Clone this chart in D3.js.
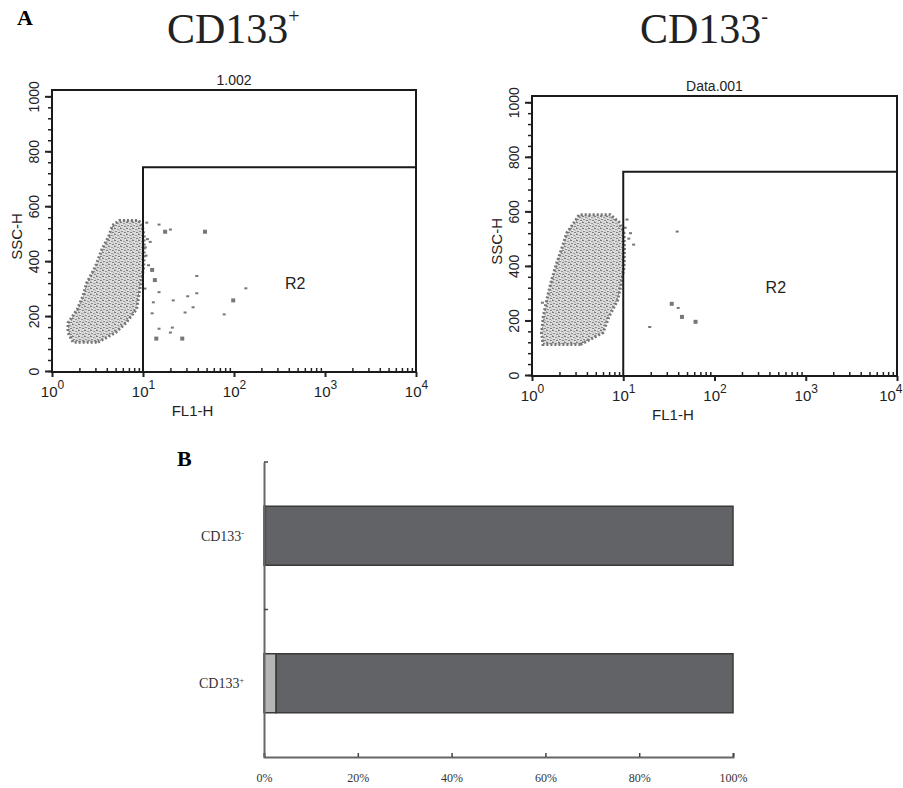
<!DOCTYPE html>
<html>
<head>
<meta charset="utf-8">
<script src="https://cdn.jsdelivr.net/npm/d3@7"></script>
<style>
body{margin:0;background:#fff}
svg{display:block}
</style>
</head>
<body>
<svg width="903" height="788"></svg>
<script>
// ---- data ----
// FACS plots: x = FL1-H (log), y = SSC-H (0..1023)
var decades = [1, 10, 100, 1000, 10000];
var sscMajor = [0, 200, 400, 600, 800, 1000];
var gateFl1 = 10;

// main cell cloud outline per SSC row: [ssc, fl1 low, fl1 high]
var cloudPos = [
  [105, 1.7, 3.2], [140, 1.5, 5.0], [175, 1.5, 6.5], [225, 1.9, 8.5],
  [275, 2.2, 9.0], [320, 2.4, 9.5], [380, 3.0, 10.2], [440, 3.5, 10.3],
  [490, 4.2, 10.3], [530, 4.6, 9.8], [548, 5.5, 9.0]
];
var cloudNeg = [
  [112, 1.32, 3.4], [155, 1.27, 6.0], [215, 1.33, 7.0], [275, 1.45, 8.7],
  [335, 1.6, 9.5], [395, 1.8, 10.2], [460, 2.1, 10.3], [520, 2.4, 10.2],
  [560, 2.9, 9.0], [588, 3.3, 7.2]
];
// scattered events: [fl1, ssc, big]
var eventsPos = [
  [11, 540, 0], [15, 533, 0], [17.5, 507, 1], [20, 515, 0], [48, 507, 1],
  [12.6, 368, 1], [13.5, 331, 1], [15, 287, 0], [21.5, 257, 0], [39, 346, 0],
  [31, 272, 0], [39, 283, 0], [35.5, 232, 0], [29, 213, 0], [98, 257, 1],
  [135, 301, 0], [78, 206, 0], [21, 158, 0], [20, 140, 0], [14, 118, 1],
  [27, 118, 1], [15, 154, 0], [13, 250, 0], [12.6, 210, 0], [10.6, 450, 0],
  [10.8, 420, 0], [11.5, 385, 0], [10.5, 300, 0], [11.2, 480, 0], [12, 470, 0]
];
var eventsNeg = [
  [39, 526, 0], [34, 261, 1], [40, 246, 0], [44, 213, 1], [62, 195, 1],
  [19.5, 176, 0], [11, 570, 0], [13, 478, 0], [11.5, 500, 0], [12, 520, 0],
  [10.5, 540, 0], [1.3, 265, 0]
];

// bar chart (percent of cells)
var groups = ["CD133-", "CD133+"];
var pctPositive = [0.3, 2.6];
var pctNegative = [99.7, 97.4];
var pctTicks = [0, 0.2, 0.4, 0.6, 0.8, 1];

var svg = d3.select("svg");

// speckle texture for the dense event cloud
var pat = svg.append("defs").append("pattern")
  .attr("id", "speckle").attr("width", 6).attr("height", 6)
  .attr("patternUnits", "userSpaceOnUse");
pat.append("rect").attr("width", 6).attr("height", 6).attr("fill", "#d8d8d8");
[[0,0,2,1,"#7c7c7c"],[3,1,2,1,"#999"],[1,3,2,1,"#8a8a8a"],[4,4,2,1,"#828282"],[0,5,1,1,"#a8a8a8"],[5,2,1,1,"#b4b4b4"],[2,2,1,1,"#f2f2f2"],[5,5,1,1,"#f0f0f0"]]
  .forEach(function(r){
    pat.append("rect").attr("x", r[0]).attr("y", r[1]).attr("width", r[2]).attr("height", r[3]).attr("fill", r[4]);
  });

// panel letters and headings
svg.append("text").attr("x", 17).attr("y", 25)
  .style("font", "bold 22px 'Liberation Serif'").text("A");
svg.append("text").attr("x", 177).attr("y", 466)
  .style("font", "bold 22px 'Liberation Serif'").text("B");

function heading(x, y, sign){
  var t = svg.append("text").attr("x", x).attr("y", y)
    .style("font", "42px 'Liberation Serif'").attr("fill", "#222").text("CD133");
  t.append("tspan").attr("dy", -20).style("font-size", "20px").text(sign);
}
heading(167, 43, "+");
heading(640, 43, "-");

function facs(o){
  var x = d3.scaleLog().domain([1, 10000]).range([o.left, o.right]);
  var y = d3.scaleLinear().domain([0, 1023]).range([o.bottom - 1, o.top]);
  var g = svg.append("g");
  var font = "'Liberation Sans', Arial, sans-serif";

  // cloud
  var area = d3.area()
    .y(function(d){ return y(d[0]); })
    .x0(function(d){ return x(d[1]); })
    .x1(function(d){ return x(d[2]); });
  g.append("path").datum(o.cloud).attr("d", area)
    .attr("fill", "url(#speckle)")
    .attr("stroke", "#767676").attr("stroke-width", 3)
    .attr("stroke-dasharray", "2 2");

  // scattered events
  g.selectAll("rect.ev").data(o.events).enter().append("rect")
    .attr("class", "ev")
    .attr("x", function(d){ return x(d[0]) - (d[2] ? 2 : 1.5); })
    .attr("y", function(d){ return y(d[1]) - (d[2] ? 2 : 1); })
    .attr("width", function(d){ return d[2] ? 4 : 3; })
    .attr("height", function(d){ return d[2] ? 4 : 2; })
    .attr("fill", "#777");

  // y axis: minor + major ticks, rotated labels
  g.append("g").attr("transform", "translate(" + o.left + ",0)")
    .call(d3.axisLeft(y).tickValues(d3.range(0, 1001, 40)).tickSize(4).tickFormat(""))
    .call(function(a){ a.select(".domain").remove(); a.selectAll("line").attr("stroke", "#222").attr("stroke-width", 1.5); });
  var ya = g.append("g").attr("transform", "translate(" + o.left + ",0)")
    .call(d3.axisLeft(y).tickValues(sscMajor).tickSize(7).tickFormat(""))
    .call(function(a){ a.select(".domain").remove(); a.selectAll("line").attr("stroke", "#222").attr("stroke-width", 2); });
  ya.selectAll(".tick").append("text")
    .attr("transform", "translate(-18,0) rotate(-90)")
    .attr("text-anchor", "middle").attr("dy", "0.35em")
    .attr("fill", "#222").style("font", "14px " + font)
    .text(function(d){ return d; });

  // x axis: minor ticks inside, decades labelled 10^n
  var minor = [];
  decades.slice(0, -1).forEach(function(d){ for (var k = 2; k < 10; k++) minor.push(d * k); });
  g.append("g").attr("transform", "translate(0," + o.bottom + ")")
    .call(d3.axisBottom(x).tickValues(minor).tickSize(-4).tickFormat(""))
    .call(function(a){ a.select(".domain").remove(); a.selectAll("line").attr("stroke", "#222").attr("stroke-width", 1.5); });
  var xa = g.append("g").attr("transform", "translate(0," + o.bottom + ")")
    .call(d3.axisBottom(x).tickValues(decades).tickSize(5).tickFormat(""))
    .call(function(a){ a.select(".domain").remove(); a.selectAll("line").attr("stroke", "#222").attr("stroke-width", 2); });
  var lab = xa.selectAll(".tick").append("text")
    .attr("y", 25)
    .attr("text-anchor", function(d){ return x(d) > 890 ? "end" : "middle"; })
    .attr("x", function(d){ return x(d) > 890 ? 902 - x(d) : 0; })
    .attr("fill", "#222").style("font", "15px " + font).text("10");
  lab.append("tspan").attr("dy", -8).style("font-size", "12px")
    .text(function(d){ return Math.round(Math.log10(d)); });

  // frame and R2 gate
  g.append("rect").attr("x", o.left).attr("y", o.top)
    .attr("width", o.right - o.left).attr("height", o.bottom - o.top)
    .attr("fill", "none").attr("stroke", "#1a1a1a").attr("stroke-width", 2);
  g.append("path")
    .attr("d", "M" + x(gateFl1) + "," + y(0) + "V" + y(o.gateTop) + "H" + o.right)
    .attr("fill", "none").attr("stroke", "#1a1a1a").attr("stroke-width", 2);
  g.append("text").attr("x", x(470)).attr("y", y(320)).attr("dy", "0.35em")
    .attr("text-anchor", "middle").attr("fill", "#222")
    .style("font", "16px " + font).text("R2");

  // titles
  g.append("text").attr("x", (o.left + o.right) / 2).attr("y", o.top - 5)
    .attr("text-anchor", "middle").attr("fill", "#222")
    .style("font", "14px " + font).text(o.title);
  g.append("text").attr("x", x(35)).attr("y", o.bottom + 44)
    .attr("text-anchor", "middle").attr("fill", "#222")
    .style("font", "15px " + font).text("FL1-H");
  g.append("text")
    .attr("transform", "translate(" + (o.left - 35) + "," + y(490) + ") rotate(-90)")
    .attr("text-anchor", "middle").attr("dy", "0.35em").attr("fill", "#222")
    .style("font", "15px " + font).text("SSC-H");
}

facs({left: 52, right: 416, top: 90, bottom: 372, title: "1.002",
      cloud: cloudPos, events: eventsPos, gateTop: 742});
facs({left: 532, right: 897, top: 96, bottom: 376, title: "Data.001",
      cloud: cloudNeg, events: eventsNeg, gateTop: 745});

// ---- bar chart B ----
var xb = d3.scaleLinear().domain([0, 1]).range([264, 733]);
var yb = d3.scaleBand().domain(groups).range([462, 757]).padding(0);
var barH = yb.bandwidth() * 0.4;

var table = groups.map(function(gname, i){
  return {group: gname, positive: pctPositive[i] / 100, negative: pctNegative[i] / 100};
});
var stack = d3.stack().keys(["positive", "negative"])(table);
var barFill = {positive: "#b5b5b5", negative: "#626366"};

var bars = svg.append("g");
bars.selectAll("g").data(stack).enter().append("g")
  .attr("fill", function(s){ return barFill[s.key]; })
  .selectAll("rect").data(function(s){ return s; }).enter().append("rect")
  .attr("x", function(d){ return xb(d[0]); })
  .attr("width", function(d){ return xb(d[1]) - xb(d[0]); })
  .attr("y", function(d){ return yb(d.data.group) + (yb.bandwidth() - barH) / 2; })
  .attr("height", barH)
  .attr("stroke", "#3a3a3a").attr("stroke-width", 1.5);

var xax = svg.append("g").attr("transform", "translate(0,757)")
  .call(d3.axisBottom(xb).tickValues(pctTicks).tickSize(-4).tickPadding(16).tickFormat(d3.format(".0%")));
xax.select(".domain").attr("stroke", "#666").attr("stroke-width", 2);
xax.selectAll("line").attr("stroke", "#444").attr("stroke-width", 1.5);
xax.selectAll("text").attr("fill", "#333").style("font", "12px 'Liberation Serif'");

var yax = svg.append("g").attr("transform", "translate(264,0)")
  .call(d3.axisLeft(yb).tickSize(0).tickPadding(12).tickFormat(""));
yax.select(".domain").attr("stroke", "#666").attr("stroke-width", 2);
// small inward ticks at band edges
yax.selectAll("line.edge").data(groups).enter().append("line")
  .attr("class", "edge").attr("x1", 0).attr("x2", 4)
  .attr("y1", function(d){ return yb(d); }).attr("y2", function(d){ return yb(d); })
  .attr("stroke", "#444").attr("stroke-width", 1.5);
var gl = yax.selectAll(".tick").append("text")
  .attr("x", -20).attr("dy", "0.35em").attr("text-anchor", "end")
  .attr("fill", "#333").style("font", "14px 'Liberation Serif'")
  .text("CD133");
gl.append("tspan").attr("dy", -5).style("font-size", "8px")
  .text(function(d){ return d.slice(-1); });
</script>
</body>
</html>
